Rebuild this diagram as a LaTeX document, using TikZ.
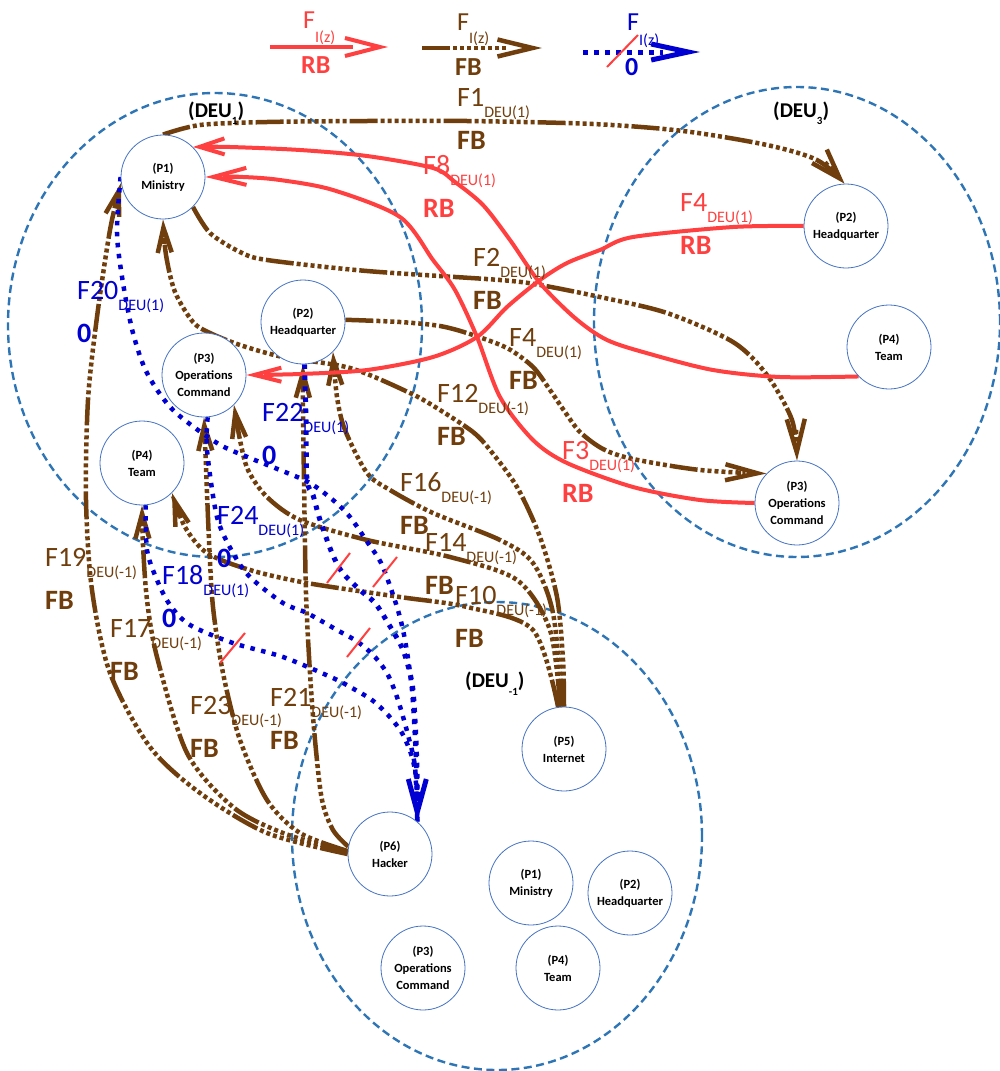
\documentclass[tikz,border=0pt]{standalone}
\usepackage{fontspec}
\setmainfont{Carlito}
\usetikzlibrary{arrows.meta}
\definecolor{fbrown}{RGB}{112,62,12}
\definecolor{rbred}{RGB}{255,64,64}
\definecolor{zblue}{RGB}{0,0,210}
\definecolor{ringblue}{RGB}{68,114,196}
\definecolor{deublue}{RGB}{46,117,182}
\pgfdeclarelayer{flows}
\pgfsetlayers{flows,main}
\tikzset{
  party/.style={circle, draw=ringblue, line width=0.8pt, fill=white, minimum size=84pt,
    inner sep=0pt, align=center, font=\bfseries\fontsize{12.5}{17}\selectfont},
  deuring/.style={draw=deublue, line width=2.4pt, dash pattern=on 8pt off 4.5pt},
  fbline/.style={draw=fbrown, line width=4.5pt,
    dash pattern=on 28pt off 3pt on 4pt off 3pt on 4pt off 3pt on 4pt off 3pt on 4pt off 3pt
      on 4pt off 3pt on 4pt off 3pt on 4pt off 3pt on 4pt off 3pt on 4pt off 3pt},
  rbline/.style={draw=rbred, line width=4pt},
  zline/.style={draw=zblue, line width=4.5pt, dash pattern=on 4.5pt off 6.5pt},
  % open "V" head; the shaft stops where the barbs begin
  vtip/.style 2 args={shorten >=#1,
    postaction={draw, dash pattern=on 0pt off 10000pt, shorten >=0pt,
      -{Straight Barb[length=#1, width=#2]}}},
  redcut/.style={draw=rbred, line width=2pt},
  deutag/.style={anchor=base west, inner sep=0pt, font=\bfseries\fontsize{21}{21}\selectfont},
}
% flow label: name, x, baseline, main text, subscript, value, colour
\newcommand\flowtag[7]{%
  \node[anchor=base west, inner sep=0pt, text=#7, font=\fontsize{28}{28}\selectfont] (#1) at (#2,#3)
    {#4\raisebox{-11pt}{\fontsize{16}{16}\selectfont #5}};
  \node[anchor=base west, inner sep=0pt, text=#7, font=\bfseries\fontsize{28}{28}\selectfont] (#1v) at (#2,#3+43) {#6};
}
% legend label: name, x, baseline, value, colour, subscript drop
\newcommand\legendtag[6]{%
  \node[anchor=base west, inner sep=0pt, text=#5, font=\fontsize{26}{26}\selectfont] (#1) at (#2,#3)
    {F\raisebox{-#6}{\fontsize{16}{16}\selectfont I(z)}};
  \node[anchor=base west, inner sep=0pt, text=#5, font=\bfseries\fontsize{26}{26}\selectfont] (#1v) at (#2-2,#3+45) {#4};
}
\begin{document}
\begin{tikzpicture}[x=1pt,y=-1pt]
\useasboundingbox (0,0) rectangle (999,1071);

% ---------- parties ----------
\node[party] (p1) at (163,177) {(P1)\\Ministry};
\node[party] (p2) at (303,322) {(P2)\\Headquarter};
\node[party] (p3) at (204,375) {(P3)\\Operations\\Command};
\node[party] (p4) at (142,463) {(P4)\\Team};
\node[party] (q2) at (846,226) {(P2)\\Headquarter};
\node[party] (q4) at (889,347) {(P4)\\Team};
\node[party] (q3) at (797,503) {(P3)\\Operations\\Command};
\node[party] (s5) at (564,749) {(P5)\\Internet};
\node[party] (s6) at (390,854) {(P6)\\Hacker};
\node[party] (s1) at (531,883) {(P1)\\Ministry};
\node[party] (s2) at (630,893) {(P2)\\Headquarter};
\node[party] (s3) at (423,968) {(P3)\\Operations\\Command};
\node[party] (s4) at (558,968) {(P4)\\Team};

\begin{pgfonlayer}{flows}
\fill[white] (0,0) rectangle (999,1071);
% domains
\draw[deuring] (215,325) ellipse [x radius=207pt, y radius=232pt];
\draw[deuring] (797,322) ellipse [x radius=203pt, y radius=235pt];
\draw[deuring] (497,836) ellipse [x radius=205pt, y radius=234pt];

% ---------- legend ----------
\coordinate (lgRa) at (270,47);  \coordinate (lgRb) at (388,47);
\coordinate (lgFa) at (422,48);  \coordinate (lgFb) at (542,48);
\coordinate (lgZa) at (583,52);  \coordinate (lgZb) at (700,52);
\draw[rbline, vtip={35pt}{18pt}] (lgRa) -- (lgRb);
\draw[fbline, vtip={35pt}{17pt}] (lgFa) -- (lgFb);
\draw[zline, line width=5pt, vtip={37pt}{16pt}] (lgZa) -- (lgZb);

% ---------- FB flows ----------
\draw[fbline, vtip={30pt}{20pt}] plot[smooth] coordinates
  {(p1.90) (200,125) (267,122) (367,121) (467,121) (593,124) (683,131) (767,145) (817,160) (q2.92)};
\draw[fbline, vtip={33pt}{18pt}] plot[smooth] coordinates
  {(p1.-45) (210,233) (240,252) (267,260) (367,271) (500,280) (540,285) (600,297) (667,313) (733,342) (767,375) (792,420) (q3.90)};
\draw[fbline, vtip={32pt}{16pt}] plot[smooth] coordinates
  {(p2.3) (400,322) (440,326) (470,334) (507,348) (533,367) (550,390) (565,412) (580,432) (603,449) (633,459) (700,470) (q3.136)};
\draw[fbline, vtip={25pt}{14pt}] plot[smooth] coordinates
  {(s5.90) (563,660) (557,597) (540,537) (517,487) (490,450) (473,432) (440,410) (410,393) (350,368) (283,357) (240,345) (210,333) (193,322) (175,292) (166,255) (p1.-90)};
\draw[fbline, vtip={25pt}{14pt}] plot[smooth] coordinates
  {(s5.92) (553,613) (533,563) (500,540) (433,513) (390,490) (367,473) (345,430) (337,397) (p2.-45)};
\draw[fbline, vtip={25pt}{14pt}] plot[smooth] coordinates
  {(s5.95) (550,630) (517,580) (450,557) (367,540) (300,520) (267,497) (248,470) (240,440) (p3.-45)};
\draw[fbline, vtip={25pt}{14pt}] plot[smooth] coordinates
  {(s5.98) (533,630) (467,607) (400,597) (307,583) (250,570) (207,553) (185,527) (p4.-45)};
\draw[fbline, vtip={25pt}{14pt}] plot[smooth] coordinates
  {(s6.180) (267,833) (200,793) (150,747) (110,673) (92,590) (86,500) (88,400) (97,317) (110,230) (p1.188)};
\draw[fbline, vtip={25pt}{14pt}] plot[smooth] coordinates
  {(s6.178) (283,833) (233,807) (187,753) (157,657) (147,600) (143,545) (p4.-90)};
\draw[fbline, vtip={25pt}{14pt}] plot[smooth] coordinates
  {(s6.176) (300,833) (267,800) (240,740) (223,673) (213,607) (209,540) (206,467) (p3.-90)};
\draw[fbline, vtip={25pt}{14pt}] plot[smooth] coordinates
  {(s6.170) (333,830) (322,800) (315,740) (310,673) (306,593) (304,480) (303,410) (p2.-90)};

% ---------- RB flows ----------
\draw[rbline, vtip={25pt}{16pt}] plot[smooth] coordinates
  {(q4.224) (780,377) (713,370) (650,354) (607,340) (575,318) (540,283) (510,240) (483,205) (455,182) (433,168) (367,156) (300,150) (230,147) (p1.45)};
\draw[rbline, vtip={33pt}{17pt}] plot[smooth] coordinates
  {(q3.180) (700,500) (633,487) (567,463) (533,440) (500,397) (477,337) (455,290) (433,260) (400,217) (333,190) (280,180) (243,177) (p1.0)};
\draw[rbline, vtip={27pt}{14pt}] plot[smooth] coordinates
  {(q2.180) (733,227) (633,237) (600,250) (567,263) (540,280) (507,307) (477,337) (433,357) (367,370) (300,374) (p3.0)};

% ---------- blocked flows (0) ----------
\draw[zline] plot[smooth] coordinates
  {(p1.180) (117,233) (123,283) (133,333) (147,373) (173,410) (217,443) (250,458) (285,472) (310,483) (333,500) (350,517) (368,543) (382,565) (397,607) (405,640) (412,690) (416,760) (s6.50)};
\draw[zline] plot[smooth] coordinates
  {(p3.-85) (207,450) (217,517) (233,553) (250,577) (283,603) (307,613) (337,630) (358,642) (375,657) (388,675) (398,700) (408,735) (415,767) (s6.50)};
\draw[zline] plot[smooth] coordinates
  {(p4.-85) (147,550) (157,580) (170,605) (190,625) (233,643) (283,657) (333,678) (352,688) (372,700) (388,715) (402,733) (412,757) (417,785) (s6.50)};
\draw[zline, line width=5pt, vtip={33pt}{18pt}] plot[smooth] coordinates
  {(p2.-88) (306,420) (307,480) (313,495) (320,520) (332,553) (342,572) (360,590) (375,603) (388,623) (403,650) (412,683) (415,720) (417,770) (s6.50)};
\end{pgfonlayer}

% cut marks on blocked flows
\draw[redcut] (607,67) -- (638,35);
\draw[redcut] (327,583) -- (350,553);
\draw[redcut] (373,587) -- (397,557);
\draw[redcut] (347,657) -- (370,628);
\draw[redcut] (220,663) -- (245,633);

% ---------- legend labels ----------
\legendtag{lgR}{303}{28}{RB}{rbred}{14pt}
\legendtag{lgF}{457}{30}{FB}{fbrown}{13pt}
\legendtag{lgZ}{627}{30}{0}{zblue}{15pt}

% ---------- domain labels ----------
\node[deutag] (deuA) at (188,117) {(DEU\raisebox{-7pt}{\fontsize{11}{11}\selectfont 1})};
\node[deutag] (deuC) at (773,117) {(DEU\raisebox{-7pt}{\fontsize{11}{11}\selectfont 3})};
\node[deutag] (deuM) at (465,687) {(DEU\raisebox{-8pt}{\fontsize{11}{11}\selectfont -1})};

% ---------- flow labels ----------
\flowtag{tF1}{457}{106}{F1}{DEU(1)}{FB}{fbrown}
\flowtag{tF8}{423}{174}{F8}{DEU(1)}{RB}{rbred}
\flowtag{tF2}{473}{266}{F2}{DEU(1)}{FB}{fbrown}
\flowtag{tF4r}{680}{211}{F4}{DEU(1)}{RB}{rbred}
\flowtag{tF4b}{509}{346}{F4}{DEU(1)}{FB}{fbrown}
\flowtag{tF12}{437}{402}{F12}{DEU(-1)}{FB}{fbrown}
\flowtag{tF3}{562}{459}{F3}{DEU(1)}{RB}{rbred}
\flowtag{tF16}{400}{491}{F16}{DEU(-1)}{FB}{fbrown}
\flowtag{tF14}{425}{551}{F14}{DEU(-1)}{FB}{fbrown}
\flowtag{tF10}{455}{604}{F10}{DEU(-1)}{FB}{fbrown}
\flowtag{tF20}{77}{299}{F20}{DEU(1)}{0}{zblue}
\flowtag{tF22}{262}{421}{F22}{DEU(1)}{0}{zblue}
\flowtag{tF24}{217}{524}{F24}{DEU(1)}{0}{zblue}
\flowtag{tF18}{162}{584}{F18}{DEU(1)}{0}{zblue}
\flowtag{tF19}{45}{566}{F19}{DEU(-1)}{FB}{fbrown}
\flowtag{tF17}{110}{637}{F17}{DEU(-1)}{FB}{fbrown}
\flowtag{tF23}{190}{714}{F23}{DEU(-1)}{FB}{fbrown}
\flowtag{tF21}{270}{706}{F21}{DEU(-1)}{FB}{fbrown}
\end{tikzpicture}
\end{document}
